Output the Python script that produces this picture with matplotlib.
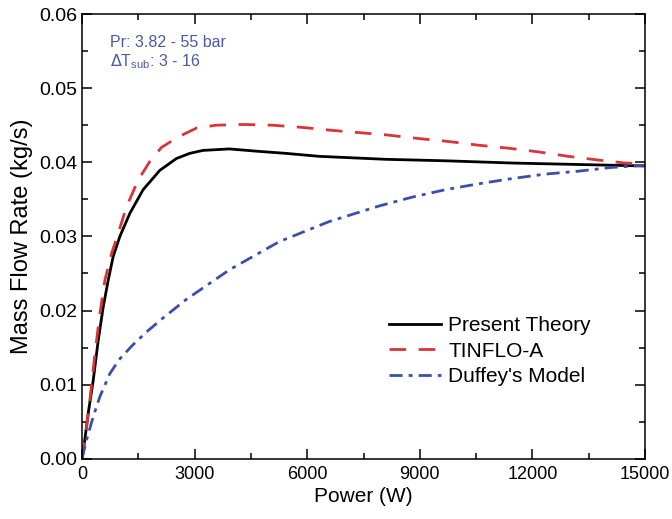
import numpy as np
import matplotlib.pyplot as plt
from matplotlib.ticker import MultipleLocator

plt.rcParams['font.family'] = ['Liberation Sans', 'DejaVu Sans']

# values
power_present = [0, 53, 168, 300, 433, 566, 699, 831, 1009, 1274, 1628, 2071, 2513, 2867,
                 3221, 3929, 4637, 5434, 6319, 7204, 8089, 9681, 11451, 13221, 15000]
flow_present = [0.0, 0.0017, 0.0062, 0.0106, 0.0160, 0.0205, 0.0241, 0.0273, 0.0300, 0.0331,
                0.0363, 0.0389, 0.0405, 0.0412, 0.0416, 0.0418, 0.0415, 0.0412, 0.0408,
                0.0406, 0.0404, 0.0402, 0.0399, 0.0397, 0.0395]

power_tinflo = [0, 80, 212, 345, 478, 610, 788, 964, 1186, 1496, 1805, 2116, 2557, 3044, 3575,
                4283, 5080, 5876, 6673, 7381, 8089, 8973, 9770, 10566, 11363, 12159, 12956,
                13752, 14460, 15000]
flow_tinflo = [0.0, 0.0026, 0.0080, 0.0142, 0.0196, 0.0241, 0.0277, 0.0304, 0.0340, 0.0376,
               0.0401, 0.0420, 0.0434, 0.0446, 0.0450, 0.0451, 0.0450, 0.0447, 0.0443, 0.0440,
               0.0437, 0.0432, 0.0428, 0.0423, 0.0419, 0.0414, 0.0408, 0.0403, 0.0399, 0.0398]

power_duffey = [0, 124, 300, 478, 743, 1009, 1362, 1717, 2159, 2779, 3929, 5257, 6584, 7912,
                 8797, 9681, 10566, 11451, 12336, 13221, 14106, 15000]
flow_duffey = [0.0, 0.0026, 0.0057, 0.0084, 0.0115, 0.0135, 0.0154, 0.0171, 0.0190, 0.0215,
               0.0255, 0.0293, 0.0320, 0.0341, 0.0353, 0.0363, 0.0371, 0.0378, 0.0384, 0.0388,
               0.0393, 0.0396]

x_ticks = [0, 3000, 6000, 9000, 12000, 15000]
y_ticks = [0.00, 0.01, 0.02, 0.03, 0.04, 0.05, 0.06]

fig = plt.figure(figsize=(6.72, 5.19), dpi=100)
ax = fig.add_axes([0.122, 0.116, 0.838, 0.857])

ax.plot(power_present, flow_present, color='black', lw=2, label='Present Theory')
ax.plot(power_tinflo, flow_tinflo, color='#d8343a', lw=2, dashes=(6, 4.5), label='TINFLO-A')
ax.plot(power_duffey, flow_duffey, color='#3a4fa8', lw=2, dashes=(4.7, 2.2, 1.4, 2.2),
        label="Duffey's Model")

ax.set_xlim(0, 15000)
ax.set_ylim(0, 0.06)
ax.set_xticks(x_ticks)
ax.set_yticks(y_ticks)
ax.set_yticklabels(['%.2f' % v for v in y_ticks])
ax.xaxis.set_minor_locator(MultipleLocator(1500))
ax.yaxis.set_minor_locator(MultipleLocator(0.005))
ax.tick_params(which='both', direction='in', top=True, right=True, labelsize=14, width=1.1)
ax.tick_params(axis='x', labelsize=13)
ax.tick_params(which='major', length=7)
ax.tick_params(which='minor', length=4)
ax.tick_params(axis='x', pad=5)
for s in ax.spines.values():
    s.set_linewidth(1.1)

ax.set_xlabel('Power (W)', fontsize=15, labelpad=3)
ax.set_ylabel('Mass Flow Rate (kg/s)', fontsize=17, labelpad=4)

ax.text(0.05, 0.952, 'Pr: 3.82 - 55 bar', transform=ax.transAxes, color='#4a5aa8', fontsize=11.5, va='top')
ax.text(0.05, 0.915, r'$\Delta$T$_{\mathregular{sub}}$: 3 - 16', transform=ax.transAxes, color='#4a5aa8',
        fontsize=11.5, va='top')

ax.legend(loc='lower right', bbox_to_anchor=(0.93, 0.13), frameon=False, fontsize=15,
          handlelength=2.5, labelspacing=0.32, handletextpad=0.35, borderaxespad=0.3)

fig.savefig('out.png', dpi=100)
